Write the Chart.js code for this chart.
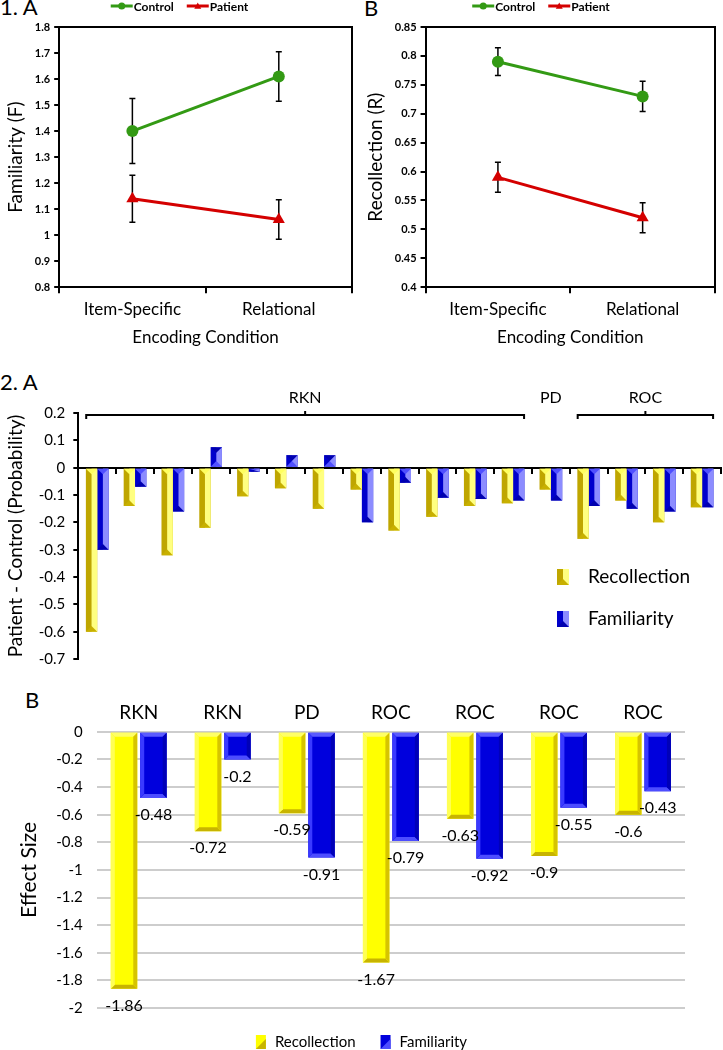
<!DOCTYPE html>
<html>
<head>
<meta charset="utf-8">
<script src="https://cdn.jsdelivr.net/npm/chart.js@4.4.1/dist/chart.umd.min.js"></script>
<style>
  body { margin: 0; background: #fff; width: 723px; height: 1050px; position: relative; overflow: hidden; font-family: Lato, sans-serif; }
  .box { position: absolute; }
  .panel { position: absolute; font-size: 22px; line-height: 1; color: #000; }
</style>
</head>
<body>
<div class="panel" style="left:0;top:-4px">1. A</div>
<div class="panel" style="left:364px;top:-3px">B</div>
<div class="panel" style="left:0;top:371px">2. A</div>
<div class="panel" style="left:25px;top:689px">B</div>

<div class="box" style="left:0;top:0;width:360px;height:352px"><canvas id="f1a"></canvas></div>
<div class="box" style="left:360px;top:0;width:363px;height:352px"><canvas id="f1b"></canvas></div>
<div class="box" style="left:0;top:365px;width:723px;height:311px"><canvas id="f2a"></canvas></div>
<div class="box" style="left:0;top:688px;width:723px;height:362px"><canvas id="f2b"></canvas></div>

<script>
// Figure 1: means by encoding condition
const CONDITIONS = ['Item-Specific', 'Relational'];
const FAM_CONTROL = [1.40, 1.61];
const FAM_CONTROL_ERR = [0.125, 0.095];
const FAM_PATIENT = [1.14, 1.06];
const FAM_PATIENT_ERR = [0.09, 0.076];
const REC_CONTROL = [0.79, 0.73];
const REC_CONTROL_ERR = [0.024, 0.026];
const REC_PATIENT = [0.59, 0.52];
const REC_PATIENT_ERR = [0.026, 0.026];

// Figure 2A: patient - control differences per study
const STUDIES = ['1', '2', '3', '4', '5', '6', '7', '8', '9', '10', '11', '12', '13', '14', '15', '16', '17'];
const DIFF_REC = [-0.60, -0.14, -0.32, -0.22, -0.105, -0.075, -0.15, -0.08, -0.23, -0.18, -0.14, -0.13, -0.08, -0.26, -0.12, -0.20, -0.145];
const DIFF_FAM = [-0.30, -0.07, -0.16, 0.075, -0.015, 0.045, 0.045, -0.20, -0.055, -0.11, -0.115, -0.12, -0.12, -0.14, -0.15, -0.16, -0.145];
const METHODS = ['RKN', 'PD', 'ROC'];
const METHOD_FIRST = [0, 12, 13];
const METHOD_LAST = [11, 12, 16];

// Figure 2B: effect sizes
const ES_METHODS = ['RKN', 'RKN', 'PD', 'ROC', 'ROC', 'ROC', 'ROC'];
const ES_REC = [-1.86, -0.72, -0.59, -1.67, -0.63, -0.9, -0.6];
const ES_FAM = [-0.48, -0.2, -0.91, -0.79, -0.92, -0.55, -0.43];

const GREEN = '#339a14';
const RED = '#d40000';
const FONT = 'Lato, sans-serif';

Chart.defaults.font.family = FONT;
Chart.defaults.color = '#000';
Chart.defaults.animation = false;

const trim = v => +v.toFixed(2);

// ---------- plugins ----------
const errorBars = {
  id: 'errorBars',
  beforeDatasetsDraw(chart) {
    const ctx = chart.ctx, y = chart.scales.y;
    ctx.save();
    ctx.strokeStyle = '#000';
    ctx.lineWidth = 1.5;
    chart.data.datasets.forEach((ds, i) => {
      chart.getDatasetMeta(i).data.forEach((pt, j) => {
        const top = y.getPixelForValue(ds.data[j] + ds.errors[j]);
        const bot = y.getPixelForValue(ds.data[j] - ds.errors[j]);
        ctx.beginPath();
        ctx.moveTo(pt.x, top); ctx.lineTo(pt.x, bot);
        ctx.moveTo(pt.x - 3, top); ctx.lineTo(pt.x + 3, top);
        ctx.moveTo(pt.x - 3, bot); ctx.lineTo(pt.x + 3, bot);
        ctx.stroke();
      });
    });
    ctx.restore();
  }
};

const frame = {
  id: 'frame',
  afterDraw(chart) {
    const { ctx, chartArea: a } = chart;
    ctx.save();
    ctx.strokeStyle = '#000';
    ctx.lineWidth = 2;
    ctx.beginPath();
    ctx.moveTo(a.left, a.top); ctx.lineTo(a.right, a.top); ctx.lineTo(a.right, a.bottom);
    ctx.stroke();
    ctx.restore();
  }
};

function marker(ctx, style, x, y, r, color) {
  ctx.fillStyle = color;
  ctx.beginPath();
  if (style === 'triangle') {
    ctx.moveTo(x, y - r); ctx.lineTo(x + r, y + r * 0.8); ctx.lineTo(x - r, y + r * 0.8);
  } else {
    ctx.arc(x, y, r, 0, Math.PI * 2);
  }
  ctx.fill();
}

const lineLegend = {
  id: 'lineLegend',
  afterDraw(chart) {
    const ctx = chart.ctx;
    ctx.save();
    ctx.font = 'bold 12px ' + FONT;
    ctx.textBaseline = 'middle';
    const items = chart.data.datasets.map(ds => ({ ds, w: 24 + ctx.measureText(ds.label).width }));
    const gap = 12;
    const total = items.reduce((s, it) => s + it.w, 0) + gap * (items.length - 1);
    let x = chart.width / 2 - total / 2;
    const y = 6;
    items.forEach(it => {
      ctx.strokeStyle = it.ds.borderColor;
      ctx.lineWidth = 3;
      ctx.beginPath(); ctx.moveTo(x, y); ctx.lineTo(x + 22, y); ctx.stroke();
      marker(ctx, it.ds.pointStyle, x + 11, y, 3.5, it.ds.borderColor);
      ctx.fillStyle = '#000';
      ctx.fillText(it.ds.label, x + 23, y + 1);
      x += it.w + gap;
    });
    ctx.restore();
  }
};

function poly(ctx, pts, color) {
  ctx.fillStyle = color;
  ctx.beginPath();
  ctx.moveTo(pts[0][0], pts[0][1]);
  for (let k = 1; k < pts.length; k++) ctx.lineTo(pts[k][0], pts[k][1]);
  ctx.closePath();
  ctx.fill();
}

// two-tone bars with pointed bevel (fig 2A)
const splitBars = {
  id: 'splitBars',
  afterDatasetsDraw(chart) {
    const ctx = chart.ctx;
    ctx.save();
    chart.data.datasets.forEach((ds, i) => {
      chart.getDatasetMeta(i).data.forEach(bar => {
        const { x, y, base, width } = bar.getProps(['x', 'y', 'base', 'width'], true);
        const l = x - width / 2, r = x + width / 2;
        const dir = y > base ? 1 : -1;
        const len = Math.abs(y - base);
        const s = Math.min(width / 2, len / 2);
        poly(ctx, [[x, base], [r, base], [r, y], [x, y]], ds.light);
        poly(ctx, [[l, base], [r, base], [x, base + dir * s]], ds.tip);
        poly(ctx, [[l, y], [r, y], [x, y - dir * s]], ds.tip2);
      });
    });
    ctx.restore();
  }
};

const brackets = {
  id: 'brackets',
  afterDraw(chart) {
    const { ctx, scales: { x, y } } = chart;
    const yl = y.getPixelForValue(y.max) + 2;
    const half = 11;
    ctx.save();
    ctx.strokeStyle = '#000';
    ctx.lineWidth = 2;
    ctx.fillStyle = '#000';
    ctx.font = '16px ' + FONT;
    ctx.textAlign = 'center';
    ctx.textBaseline = 'middle';
    METHODS.forEach((m, k) => {
      const x0 = x.getPixelForValue(METHOD_FIRST[k]) - half;
      const x1 = x.getPixelForValue(METHOD_LAST[k]) + half;
      const xc = (x0 + x1) / 2;
      if (METHOD_LAST[k] > METHOD_FIRST[k]) {
        ctx.beginPath();
        ctx.moveTo(x0, yl + 4); ctx.lineTo(x0, yl); ctx.lineTo(x1, yl); ctx.lineTo(x1, yl + 4);
        ctx.moveTo(xc, yl); ctx.lineTo(xc, yl - 4);
        ctx.stroke();
      }
      ctx.fillText(m, xc, yl - 17);
    });
    ctx.restore();
  }
};

const boxLegend = {
  id: 'boxLegend',
  afterDraw(chart) {
    const { ctx, chartArea: a } = chart;
    ctx.save();
    ctx.font = '19px ' + FONT;
    ctx.textBaseline = 'middle';
    chart.data.datasets.forEach((ds, i) => {
      const sx = a.right - 164, sy = a.top + 164 + i * 42;
      poly(ctx, [[sx, sy - 8], [sx + 12, sy - 8], [sx + 12, sy + 8], [sx, sy + 8]], ds.backgroundColor);
      poly(ctx, [[sx + 6, sy - 8], [sx + 12, sy - 8], [sx + 12, sy + 8], [sx + 6, sy + 8]], ds.light);
      poly(ctx, [[sx, sy + 8], [sx + 12, sy + 8], [sx + 6, sy + 2]], ds.tip2);
      ctx.fillStyle = '#000';
      ctx.fillText(ds.label, sx + 31, sy);
    });
    ctx.restore();
  }
};

// bevelled bars (fig 2B)
const bevelBars = {
  id: 'bevelBars',
  afterDatasetsDraw(chart) {
    const ctx = chart.ctx;
    ctx.save();
    chart.data.datasets.forEach((ds, i) => {
      const b = ds.bevel;
      chart.getDatasetMeta(i).data.forEach(bar => {
        const { x, y, base, width } = bar.getProps(['x', 'y', 'base', 'width'], true);
        const l = x - width / 2, r = x + width / 2;
        const t = Math.min(y, base), bt = Math.max(y, base);
        const s = b.size;
        poly(ctx, [[l, t], [r, t], [r - s, t + s], [l + s, t + s]], b.top);
        poly(ctx, [[l, bt], [r, bt], [r - s, bt - s], [l + s, bt - s]], b.bottom);
        poly(ctx, [[l, t], [l + s, t + s], [l + s, bt - s], [l, bt]], b.left);
        poly(ctx, [[r, t], [r - s, t + s], [r - s, bt - s], [r, bt]], b.right);
      });
    });
    ctx.restore();
  }
};

const valueLabels = {
  id: 'valueLabels',
  afterDatasetsDraw(chart) {
    const ctx = chart.ctx;
    ctx.save();
    ctx.font = '16px ' + FONT;
    ctx.fillStyle = '#000';
    ctx.textAlign = 'center';
    ctx.textBaseline = 'middle';
    chart.data.datasets.forEach((ds, i) => {
      chart.getDatasetMeta(i).data.forEach((bar, j) => {
        ctx.fillText(String(ds.data[j]), bar.x, bar.y + 17);
      });
    });
    ctx.restore();
  }
};

// legend row under fig 2B
const bottomLegend = {
  id: 'bottomLegend',
  afterDraw(chart) {
    const ctx = chart.ctx;
    ctx.save();
    ctx.font = '15px ' + FONT;
    ctx.textBaseline = 'middle';
    const sets = chart.data.datasets;
    const widths = sets.map(ds => 19 + ctx.measureText(ds.label).width);
    const gap = 25;
    let x = chart.width / 2 - (widths[0] + widths[1] + gap) / 2;
    const y = chart.height - 8;
    sets.forEach((ds, i) => {
      poly(ctx, [[x, y - 7], [x + 10, y - 7], [x + 10, y + 7], [x, y + 7]], ds.backgroundColor);
      poly(ctx, [[x, y + 7], [x + 10, y + 7], [x + 10, y - 3]], ds.bevel.bottom);
      ctx.fillStyle = '#000';
      ctx.fillText(ds.label, x + 19, y);
      x += widths[i] + gap;
    });
    ctx.restore();
  }
};

// ---------- Figure 1 ----------
function makeLineChart(id, yTitle, yMin, yMax, yStep, ctrl, ctrlErr, pat, patErr) {
  return new Chart(document.getElementById(id), {
    type: 'line',
    data: {
      labels: CONDITIONS,
      datasets: [
        { label: 'Control', data: ctrl, errors: ctrlErr, borderColor: GREEN, backgroundColor: GREEN,
          borderWidth: 3, pointStyle: 'circle', pointRadius: 6, pointBorderWidth: 0 },
        { label: 'Patient', data: pat, errors: patErr, borderColor: RED, backgroundColor: RED,
          borderWidth: 3, pointStyle: 'triangle', pointRadius: 7, pointBorderWidth: 0 }
      ]
    },
    options: {
      responsive: true,
      maintainAspectRatio: false,
      layout: { padding: { top: 27, right: 8 } },
      plugins: { legend: { display: false }, tooltip: { enabled: false } },
      scales: {
        x: {
          offset: true,
          grid: { offset: true, drawOnChartArea: false, color: '#000', lineWidth: 2, tickLength: 6 },
          border: { color: '#000', width: 2 },
          ticks: { font: { size: 17 }, padding: 6 },
          title: { display: true, text: 'Encoding Condition', font: { size: 17 }, padding: { top: 2 } }
        },
        y: {
          min: yMin, max: yMax,
          ticks: { stepSize: yStep, font: { size: 11, weight: 'bold' }, padding: 4, callback: trim },
          grid: { drawOnChartArea: false, color: '#000', lineWidth: 2, tickLength: 5 },
          border: { color: '#000', width: 2 },
          title: { display: true, text: yTitle, font: { size: 19 } }
        }
      }
    },
    plugins: [errorBars, frame, lineLegend]
  });
}

makeLineChart('f1a', 'Familiarity (F)', 0.8, 1.8, 0.1, FAM_CONTROL, FAM_CONTROL_ERR, FAM_PATIENT, FAM_PATIENT_ERR);
makeLineChart('f1b', 'Recollection (R)', 0.4, 0.85, 0.05, REC_CONTROL, REC_CONTROL_ERR, REC_PATIENT, REC_PATIENT_ERR);

// ---------- Figure 2A ----------
new Chart(document.getElementById('f2a'), {
  type: 'bar',
  data: {
    labels: STUDIES,
    datasets: [
      { label: 'Recollection', data: DIFF_REC, backgroundColor: '#bfa600', light: '#ffff80', tip: '#ffff60', tip2: '#c8b000' },
      { label: 'Familiarity', data: DIFF_FAM, backgroundColor: '#0000cc', light: '#8c8cff', tip: '#5050ff', tip2: '#0000b0' }
    ]
  },
  options: {
    responsive: true,
    maintainAspectRatio: false,
    layout: { padding: { top: 48, right: 2 } },
    datasets: { bar: { categoryPercentage: 0.6, barPercentage: 1.0 } },
    plugins: { legend: { display: false }, tooltip: { enabled: false } },
    scales: {
      x: {
        position: { y: 0 },
        grid: { offset: true, drawOnChartArea: false, color: '#000', lineWidth: 2, tickLength: 5 },
        border: { color: '#000', width: 2 },
        ticks: { display: false }
      },
      y: {
        min: -0.7, max: 0.2,
        ticks: { stepSize: 0.1, font: { size: 15 }, padding: 8, callback: trim },
        grid: { drawOnChartArea: false, color: '#000', lineWidth: 2, tickLength: 5 },
        border: { color: '#000', width: 2 },
        title: { display: true, text: 'Patient - Control (Probability)', font: { size: 19 } }
      }
    }
  },
  plugins: [splitBars, brackets, boxLegend]
});

// ---------- Figure 2B ----------
new Chart(document.getElementById('f2b'), {
  type: 'bar',
  data: {
    labels: ES_METHODS,
    datasets: [
      { label: 'Recollection', data: ES_REC, backgroundColor: '#ffff00',
        bevel: { size: 4, top: '#ffff66', bottom: '#c8b400', left: '#ffff55', right: '#d6c400' } },
      { label: 'Familiarity', data: ES_FAM, backgroundColor: '#0000dd',
        bevel: { size: 4, top: '#5a5aff', bottom: '#4d4dff', left: '#3a3aff', right: '#0000b8' } }
    ]
  },
  options: {
    responsive: true,
    maintainAspectRatio: false,
    layout: { padding: { top: 13, right: 38, left: 17, bottom: 42 } },
    datasets: { bar: { categoryPercentage: 0.7, barPercentage: 0.9 } },
    plugins: { legend: { display: false }, tooltip: { enabled: false } },
    scales: {
      x: {
        position: 'top',
        grid: { display: false },
        border: { display: false },
        ticks: { font: { size: 19 }, padding: 0 }
      },
      y: {
        min: -2, max: 0,
        ticks: { stepSize: 0.2, font: { size: 15 }, padding: 14, callback: trim },
        grid: { color: '#cdcdcd', lineWidth: 2, drawTicks: false },
        border: { display: false },
        title: { display: true, text: 'Effect Size', font: { size: 21 }, padding: 0 }
      }
    }
  },
  plugins: [bevelBars, valueLabels, bottomLegend]
});
</script>
</body>
</html>
